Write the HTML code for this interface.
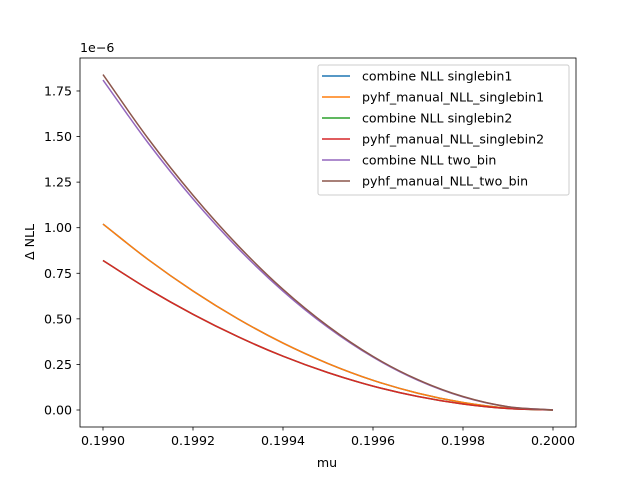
<!DOCTYPE html>
<html><head><meta charset="utf-8"><style>
body{margin:0;background:#fff}
svg text{font-family:"DejaVu Sans","Liberation Sans",sans-serif;font-size:12.6px;fill:#000}
</style></head><body>
<svg id="c" width="640" height="480" xmlns="http://www.w3.org/2000/svg">
<rect x="80" y="58" width="496" height="369" fill="#fff" stroke="#000" stroke-width="0.8"/>
<g id="ticks"></g><g id="lines"></g>
<text x="327" y="467" text-anchor="middle">mu</text>
<text x="34" y="242" text-anchor="middle" transform="rotate(-90 34 242)">Δ NLL</text>
<text x="80" y="52">1e−6</text>
<g id="legend"></g>
</svg>
<script>
const mu=[0.1990,0.1991,0.1992,0.1993,0.1994,0.1995,0.1996,0.1997,0.1998,0.1999,0.2000];
const combineSingle1=[1.02,0.826,0.653,0.50,0.367,0.255,0.163,0.092,0.041,0.010,0];
const pyhfSingle1=[1.02,0.826,0.653,0.50,0.367,0.255,0.163,0.092,0.041,0.010,0];
const combineSingle2=[0.82,0.664,0.525,0.402,0.295,0.205,0.131,0.074,0.033,0.008,0];
const pyhfSingle2=[0.82,0.664,0.525,0.402,0.295,0.205,0.131,0.074,0.033,0.008,0];
const combineTwo=[1.81,1.466,1.158,0.887,0.652,0.453,0.290,0.163,0.072,0.018,0];
const pyhfTwo=[1.84,1.49,1.178,0.902,0.662,0.46,0.294,0.166,0.074,0.018,0];
const xTicks=[0.1990,0.1992,0.1994,0.1996,0.1998,0.2000];
const xTickLabels=["0.1990","0.1992","0.1994","0.1996","0.1998","0.2000"];
const yTicks=[0,0.25,0.5,0.75,1,1.25,1.5,1.75];
const yTickLabels=["0.00","0.25","0.50","0.75","1.00","1.25","1.50","1.75"];
const names=["combine NLL singlebin1","pyhf_manual_NLL_singlebin1","combine NLL singlebin2","pyhf_manual_NLL_singlebin2","combine NLL two_bin","pyhf_manual_NLL_two_bin"];
const colors=["#1f77b4","#ff7f0e","#2ca02c","#d62728","#9467bd","#8c564b"];
const series=[combineSingle1,pyhfSingle1,combineSingle2,pyhfSingle2,combineTwo,pyhfTwo];
const sx=v=>103+(v-0.1990)/0.0010*450;
const sy=v=>410-v*182.3;
const NS="http://www.w3.org/2000/svg";
function mk(t,a,p){const e=document.createElementNS(NS,t);for(const k in a)e.setAttribute(k,a[k]);p.appendChild(e);return e;}
const tg=document.getElementById('ticks');
xTicks.forEach((v,i)=>{
 const l=mk('line',{x1:sx(v),x2:sx(v),y1:427,y2:430.5,stroke:'#000','stroke-width':0.8},tg);
 
 
 const t=mk('text',{x:sx(v),y:445,'text-anchor':'middle'},tg);t.textContent=xTickLabels[i];
 
 
});
yTicks.forEach((v,i)=>{
 const l=mk('line',{x1:76.5,x2:80,y1:sy(v),y2:sy(v),stroke:'#000','stroke-width':0.8},tg);
 
 
 const t=mk('text',{x:72,y:sy(v)+4.5,'text-anchor':'end'},tg);t.textContent=yTickLabels[i];
 
 
});
function smooth(ys){
 const P=mu.map((m,i)=>[sx(m),sy(ys[i])]);
 let d='M'+P[0][0]+','+P[0][1];
 for(let i=0;i<P.length-1;i++){
  const p0=i>0?P[i-1]:[2*P[0][0]-P[1][0],2*P[0][1]-P[1][1]];
  const p1=P[i],p2=P[i+1];
  const p3=i+2<P.length?P[i+2]:[2*P[i+1][0]-P[i][0],2*P[i+1][1]-P[i][1]];
  const c1=[p1[0]+(p2[0]-p0[0])/6,p1[1]+(p2[1]-p0[1])/6],c2=[p2[0]-(p3[0]-p1[0])/6,p2[1]-(p3[1]-p1[1])/6];
  d+=` C${c1[0]},${c1[1]} ${c2[0]},${c2[1]} ${p2[0]},${p2[1]}`;
 }
 return d;
}
const lg=document.getElementById('lines');
series.forEach((s,i)=>{
 const p=mk('path',{d:smooth(s),fill:'none',stroke:colors[i],'stroke-width':1.5},lg);
 
 
});
const leg=document.getElementById('legend');
const box=mk('rect',{x:318,y:65,width:251,height:130,rx:2,fill:'#fff','fill-opacity':0.8,stroke:'#ccc','stroke-width':1},leg);


names.forEach((n,i)=>{
 const y=76+i*21;
 const l=mk('line',{x1:322,x2:350,y1:y,y2:y,stroke:colors[i],'stroke-width':1.5},leg);
 
 
 const t=mk('text',{x:362,y:y+4.5},leg);t.textContent=n;
 
 
});
</script>
</body></html>
